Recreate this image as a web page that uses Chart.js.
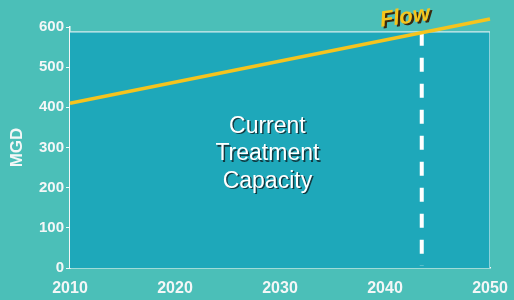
<!DOCTYPE html>
<html>
<head>
<meta charset="utf-8">
<script src="https://cdn.jsdelivr.net/npm/chart.js@4/dist/chart.umd.min.js"></script>
<style>
  html, body { margin: 0; padding: 0; background: #4bbfb8; }
  #wrap { width: 514px; height: 300px; }
</style>
</head>
<body>
<div id="wrap"><canvas id="flowChart" width="514" height="300"></canvas></div>
<script>
// — Data —
const years      = [2010, 2050];
const flowMGD    = [410, 620];
const capacityMGD = 588;
const capacityYear = 2043.5;   // year flow reaches capacity
const yTicks     = [0, 100, 200, 300, 400, 500, 600];
const xTicks     = [2010, 2020, 2030, 2040, 2050];
const centerLabel = ['Current', 'Treatment', 'Capacity'];

const WHITE = '#f4f7f7';
const FONT  = '"Liberation Sans", Arial, sans-serif';

// Capacity block: top edge + right edge, filled to zero
const capacityPts = [
  { x: years[0], y: capacityMGD },
  { x: years[1], y: capacityMGD },
  { x: years[1], y: 0 }
];
const flowPts = years.map((x, i) => ({ x, y: flowMGD[i] }));
const markPts = [{ x: capacityYear, y: capacityMGD }, { x: capacityYear, y: 5 }];

// Text labels placed through the scales
const labelsPlugin = {
  id: 'labels',
  afterDatasetsDraw(chart) {
    const { ctx, scales: { x, y } } = chart;
    ctx.save();
    ctx.textAlign = 'center';
    ctx.textBaseline = 'middle';

    // centre label
    ctx.font = `23px ${FONT}`;
    const cx = x.getPixelForValue(2028.8);
    centerLabel.forEach((t, i) => {
      const cy = y.getPixelForValue(352 - i * 68);
      ctx.fillStyle = '#123a42';
      ctx.fillText(t, cx + 1.5, cy + 1.5);
      ctx.fillStyle = '#ffffff';
      ctx.fillText(t, cx, cy);
    });

    // Flow label
    ctx.translate(x.getPixelForValue(2041.9), y.getPixelForValue(624));
    ctx.rotate(-0.14);
    ctx.font = `italic bold 22px ${FONT}`;
    ctx.fillStyle = '#3a2a10';
    ctx.fillText('Flow', 2, 2);
    ctx.fillStyle = '#f7c51c';
    ctx.fillText('Flow', 0, 0);
    ctx.restore();
  }
};

new Chart(document.getElementById('flowChart'), {
  type: 'line',
  data: {
    datasets: [
      {
        data: capacityPts,
        borderColor: '#d8eef0',
        borderWidth: 1.2,
        backgroundColor: '#1ea8ba',
        fill: 'origin',
        pointRadius: 0,
        order: 3
      },
      {
        data: markPts,
        borderColor: '#ffffff',
        borderWidth: 4,
        borderDash: [14, 12],
        pointRadius: 0,
        fill: false,
        order: 2
      },
      {
        data: flowPts,
        borderColor: '#f5c41e',
        borderWidth: 3.5,
        pointRadius: 0,
        fill: false,
        clip: false,
        order: 1
      }
    ]
  },
  options: {
    responsive: false,
    animation: false,
    layout: { padding: { top: 27, right: 24, left: 0, bottom: 0 } },
    plugins: { legend: { display: false }, tooltip: { enabled: false } },
    scales: {
      x: {
        type: 'linear',
        min: 2010,
        max: 2050,
        afterBuildTicks: s => { s.ticks = xTicks.map(v => ({ value: v })); },
        afterFit: s => { s.height = 32; s.paddingLeft = 0; s.paddingRight = 0; },
        grid: { display: false, drawTicks: false },
        border: { color: WHITE, width: 1.5 },
        ticks: {
          color: WHITE,
          padding: 11,
          maxRotation: 0,
          font: { family: FONT, size: 16, weight: 'bold' },
          callback: v => String(v)
        }
      },
      y: {
        min: 0,
        max: 600,
        afterBuildTicks: s => { s.ticks = yTicks.map(v => ({ value: v })); },
        afterFit: s => { s.width = 70; },
        grid: { display: true, drawOnChartArea: false, drawTicks: true, tickLength: 4, tickColor: WHITE, lineWidth: 1 },
        border: { color: WHITE, width: 1.5 },
        ticks: {
          color: WHITE,
          padding: 2,
          font: { family: FONT, size: 15, weight: 'bold' }
        },
        title: {
          display: true,
          text: 'MGD',
          color: WHITE,
          padding: { top: 7, bottom: 4 },
          font: { family: FONT, size: 17, weight: 'bold' }
        }
      }
    }
  },
  plugins: [labelsPlugin]
});
</script>
</body>
</html>
